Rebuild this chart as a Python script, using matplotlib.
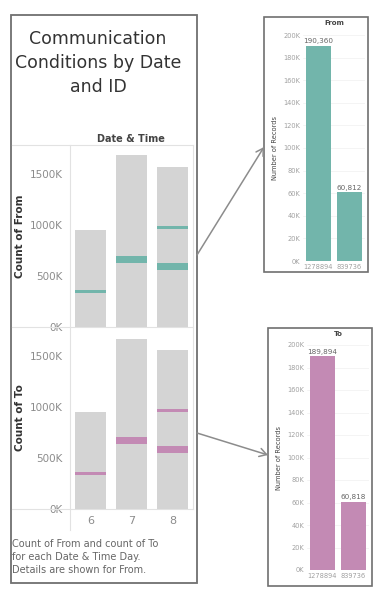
import matplotlib
matplotlib.use("Agg")
import matplotlib.pyplot as plt
from matplotlib.patches import Rectangle

# ---------------- data ----------------
days = ["6", "7", "8"]
count_from = [951000, 1686000, 1569000]
count_to = [950000, 1665000, 1557000]

# detail marks (day index, value, thickness)
from_mark_day = [0, 1, 2, 2]
from_mark_val = [343000, 662000, 970000, 588000]
to_mark_day = [0, 1, 2, 2]
to_mark_val = [348000, 667000, 967000, 580000]
mark_thick = [30000, 68000, 30000, 68000]

left_yticks = [0, 500000, 1000000, 1500000]
left_yticklabels = ["0K", "500K", "1000K", "1500K"]

ids = ["1278894", "839736"]
from_records = [190360, 60812]
to_records = [189894, 60818]
right_yticks = [0, 20000, 40000, 60000, 80000, 100000, 120000, 140000, 160000, 180000, 200000]
right_yticklabels = ["0K", "20K", "40K", "60K", "80K", "100K", "120K", "140K", "160K", "180K", "200K"]

# ---------------- style ----------------
W, H = 387, 599
TEAL = "#72b5ab"
PINK = "#c38ab4"
BARGRAY = "#d4d4d4"
FRAME = "#707070"
TICK = "#8c8c8c"
LINE = "#e2e2e2"
plt.rcParams["font.family"] = ["DejaVu Sans"]

fig = plt.figure(figsize=(W / 100, H / 100), dpi=100)
fig.patch.set_facecolor("white")


def rect(x0, y0, x1, y1):
    return [x0 / W, 1 - y1 / H, (x1 - x0) / W, (y1 - y0) / H]


def px(x, y):
    return (x / W, 1 - y / H)


def frame(x0, y0, x1, y1, lw=1.3):
    fig.add_artist(Rectangle(px(x0, y1), (x1 - x0) / W, (y1 - y0) / H,
                             transform=fig.transFigure, fill=False,
                             edgecolor=FRAME, linewidth=lw))


def fline(x0, y0, x1, y1, color=LINE, lw=0.8):
    fig.add_artist(plt.Line2D([x0 / W, x1 / W], [1 - y0 / H, 1 - y1 / H],
                              transform=fig.transFigure, color=color, linewidth=lw))


# ---------------- left panel ----------------
frame(11, 15, 197, 583)
fig.text(*px(98, 63), "Communication\nConditions by Date\nand ID", ha="center", va="center",
         fontsize=12.5, color="#333333", linespacing=1.4)
fig.text(*px(131, 139), "Date & Time", ha="center", va="center", fontsize=7,
         fontweight="bold", color="#444444")

# pane lines
fline(12, 145, 193, 145)
fline(12, 327, 193, 327)
fline(12, 509, 193, 509)
fline(70, 145, 70, 530)
fline(193, 145, 193, 509)


def left_pane(y0, y1, totals, mday, mval, color, label):
    ax = fig.add_axes(rect(70, y0, 193, y1))
    ax.bar(range(len(days)), totals, width=0.76, color=BARGRAY, zorder=1)
    bottoms = [v - t / 2 for v, t in zip(mval, mark_thick)]
    ax.bar(mday, mark_thick, bottom=bottoms, width=0.76, color=color, zorder=2)
    ax.set_xlim(-0.5, 2.5)
    ax.set_ylim(0, 1780000)
    ax.set_yticks(left_yticks)
    ax.set_yticklabels(left_yticklabels)
    ax.tick_params(axis="y", length=0, labelsize=7.5, labelcolor=TICK, pad=5)
    ax.set_xticks([])
    for s in ax.spines.values():
        s.set_visible(False)
    ax.set_facecolor("none")
    fig.text(*px(20, (y0 + y1) / 2), label, rotation=90, ha="center", va="center",
             fontsize=7.5, fontweight="semibold", color="#333333")
    return ax


left_pane(145, 327, count_from, from_mark_day, from_mark_val, TEAL, "Count of From")
axb = left_pane(327, 509, count_to, to_mark_day, to_mark_val, PINK, "Count of To")
axb.set_xticks(range(len(days)))
axb.set_xticklabels(days)
axb.tick_params(axis="x", length=0, labelsize=8, labelcolor=TICK, pad=5)

fig.text(*px(12, 557), "Count of From and count of To\nfor each Date & Time Day.\nDetails are shown for From.",
         ha="left", va="center", fontsize=7, color="#666666", linespacing=1.35)


# ---------------- right panels ----------------
def right_panel(fx0, fy0, fx1, fy1, ax_rect, values, color, title):
    frame(fx0, fy0, fx1, fy1, lw=1.2)
    ax = fig.add_axes(rect(*ax_rect))
    ax.bar(range(len(ids)), values, width=0.8, color=color, zorder=2)
    ax.set_xlim(-0.5, 1.5)
    ax.set_ylim(0, 200000)
    ax.set_yticks(right_yticks)
    ax.set_yticklabels(right_yticklabels)
    ax.set_xticks(range(len(ids)))
    ax.set_xticklabels(ids)
    ax.tick_params(axis="both", length=0, labelsize=4.8, labelcolor="#a0a0a0", pad=2)
    ax.grid(axis="y", color="#f0f0f0", linewidth=0.5, zorder=0)
    for s in ax.spines.values():
        s.set_visible(False)
    for i, v in enumerate(values):
        ax.text(i, v + 1500, f"{v:,}", ha="center", va="bottom", fontsize=5.2,
                color="#666666")
    ax.set_ylabel("Number of Records", fontsize=4.8, color="#444444", labelpad=4)
    fig.text(*px((fx0 + fx1) / 2 + 18, fy0 + 6), title, ha="center", va="center",
             fontsize=5, fontweight="bold", color="#444444")
    return ax


right_panel(264, 17, 368, 272, (303, 35, 365, 261), from_records, TEAL, "From")
right_panel(268, 328, 372, 586, (307, 345, 369, 570), to_records, PINK, "To")

# ---------------- arrows ----------------
for (x0, y0, x1, y1) in [(197, 255, 264, 147), (197, 433, 268, 455)]:
    fig.add_artist(matplotlib.patches.FancyArrowPatch(
        px(x0, y0), px(x1, y1), transform=fig.transFigure,
        arrowstyle="->,head_length=5,head_width=3", color="#8c8c8c", linewidth=1.1,
        shrinkA=0, shrinkB=0))

fig.savefig("out.png", dpi=100, facecolor="white")
